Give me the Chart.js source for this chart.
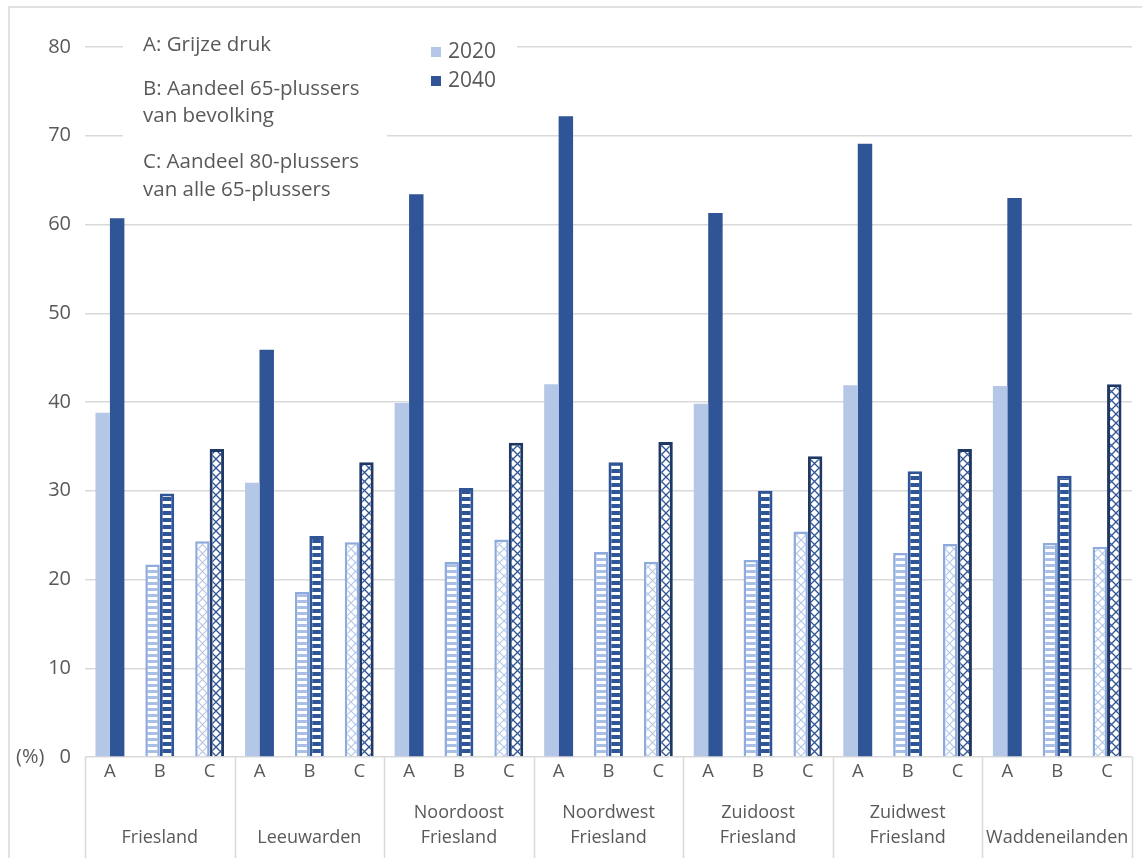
<!DOCTYPE html>
<html lang="nl">
<head>
<meta charset="utf-8">
<title>Grijze druk en vergrijzing per regio, 2020 en 2040</title>
<script src="https://cdn.jsdelivr.net/npm/chart.js@4.4.1/dist/chart.umd.min.js"></script>
<style>
  html, body { margin: 0; padding: 0; background: #ffffff; }
  #wrap { position: relative; width: 1142px; height: 858px; overflow: hidden; }
  canvas { display: block; }
</style>
</head>
<body>
<div id="wrap"><canvas id="chart" width="1142" height="858"></canvas></div>
<script>
// Regions (two-line labels; single-line names sit on the lower line)
const regions = [
  ['', 'Friesland'],
  ['', 'Leeuwarden'],
  ['Noordoost', 'Friesland'],
  ['Noordwest', 'Friesland'],
  ['Zuidoost', 'Friesland'],
  ['Zuidwest', 'Friesland'],
  ['', 'Waddeneilanden']
];
const measures = ['A', 'B', 'C'];
const measureKey = [
  'A: Grijze druk',
  ['B: Aandeel 65-plussers', 'van bevolking'],
  ['C: Aandeel 80-plussers', 'van alle 65-plussers']
];
const years = ['2020', '2040'];

// A: grijze druk (%)
const grijzeDruk2020 = [38.8, 30.9, 39.9, 42.0, 39.8, 41.9, 41.8];
const grijzeDruk2040 = [60.7, 45.9, 63.4, 72.2, 61.3, 69.1, 63.0];
// B: aandeel 65-plussers van bevolking (%)
const aandeel65_2020 = [21.7, 18.6, 22.0, 23.1, 22.2, 23.0, 24.1];
const aandeel65_2040 = [29.7, 24.9, 30.3, 33.2, 30.0, 32.2, 31.7];
// C: aandeel 80-plussers van alle 65-plussers (%)
const aandeel80_2020 = [24.3, 24.2, 24.5, 22.0, 25.4, 24.0, 23.7];
const aandeel80_2040 = [34.7, 33.2, 35.4, 35.5, 33.9, 34.7, 42.0];

const yTicks = [0, 10, 20, 30, 40, 50, 60, 70, 80];

// One category per region x measure: A, B, C, A, B, C, ...
const xLabels = [];
const data2020 = [];
const data2040 = [];
regions.forEach((r, i) => {
  xLabels.push(...measures);
  data2020.push(grijzeDruk2020[i], aandeel65_2020[i], aandeel80_2020[i]);
  data2040.push(grijzeDruk2040[i], aandeel65_2040[i], aandeel80_2040[i]);
});

const FONT = "'Open Sans', 'Liberation Sans', sans-serif";
const TEXT = '#595959';
const GRID = '#d9d9d9';
const LIGHT = '#b4c7e7';
const DARK = '#2f5597';

// Fill patterns: horizontal stripes (B) and diagonal lattice (C)
function stripes(color, on, off) {
  const c = document.createElement('canvas');
  c.width = 8; c.height = on + off;
  const g = c.getContext('2d');
  g.fillStyle = '#ffffff'; g.fillRect(0, 0, c.width, c.height);
  g.fillStyle = color; g.fillRect(0, 0, c.width, on);
  return g.createPattern(c, 'repeat');
}
function lattice(color, size, lw) {
  const c = document.createElement('canvas');
  c.width = size; c.height = size;
  const g = c.getContext('2d');
  g.fillStyle = '#ffffff'; g.fillRect(0, 0, size, size);
  g.strokeStyle = color; g.lineWidth = lw;
  g.beginPath();
  g.moveTo(0, 0); g.lineTo(size, size);
  g.moveTo(size, 0); g.lineTo(0, size);
  g.stroke();
  return g.createPattern(c, 'repeat');
}

const style = {
  '2020': {
    fill: [LIGHT, stripes('#a9bfe6', 3, 3), lattice('#b4c7e7', 9, 1.2)],
    border: [LIGHT, '#8faadc', '#8faadc'],
    width: [0, 2.5, 2.5]
  },
  '2040': {
    fill: [DARK, stripes(DARK, 4, 3), lattice(DARK, 9, 1.3)],
    border: [DARK, DARK, '#1f3864'],
    width: [0, 3, 3]
  }
};

function pick(year, key) {
  return ctx => {
    const i = (ctx.dataIndex || 0) % 3;
    return style[year][key][i];
  };
}

const decorations = {
  id: 'decorations',
  beforeDraw(chart) {
    const g = chart.ctx;
    g.save();
    g.fillStyle = '#ffffff';
    g.fillRect(0, 0, chart.width, chart.height);
    // outer frame of the chart object
    g.strokeStyle = GRID;
    g.lineWidth = 1.5;
    g.strokeRect(9, 7, chart.width + 20, chart.height + 20);
    g.restore();
  },
  beforeDatasetsDraw(chart) {
    const g = chart.ctx;
    const ds = chart.data.datasets;
    g.save();
    // text boxes cover the gridlines behind them
    g.fillStyle = '#ffffff';
    g.fillRect(123, 24, 264, 182);
    g.fillRect(387, 24, 130, 72);

    g.fillStyle = TEXT;
    g.font = '20.5px ' + FONT;
    g.textAlign = 'left';
    g.textBaseline = 'middle';
    const keyRows = [[45], [89, 116], [162, 190]];
    measureKey.forEach((txt, i) => {
      const lines = Array.isArray(txt) ? txt : [txt];
      lines.forEach((l, j) => g.fillText(l, 143, keyRows[i][j]));
    });

    // year legend
    g.font = '21px ' + FONT;
    const legendRows = [52, 81];
    ds.forEach((d, i) => {
      g.fillStyle = style[d.label].fill[0];
      g.fillRect(431, legendRows[i] - 5, 10, 10);
      g.fillStyle = TEXT;
      g.fillText(d.label, 448, legendRows[i]);
    });
    g.restore();
  },
  afterDraw(chart) {
    const g = chart.ctx;
    const x2 = chart.scales.x2;
    const y = chart.scales.y;
    const area = chart.chartArea;
    g.save();
    // group separators below the axis
    g.strokeStyle = GRID;
    g.lineWidth = 1.5;
    const n = regions.length;
    const step = (x2.right - x2.left) / n;
    for (let i = 0; i <= n; i++) {
      const px = Math.round(x2.left + i * step) + 0.5;
      g.beginPath();
      g.moveTo(px, area.bottom);
      g.lineTo(px, chart.height);
      g.stroke();
    }
    // unit label next to the zero tick
    g.fillStyle = TEXT;
    g.font = '20px ' + FONT;
    g.textAlign = 'left';
    g.textBaseline = 'middle';
    g.fillText('(%)', 16, y.getPixelForValue(0));
    g.restore();
  }
};

new Chart(document.getElementById('chart'), {
  type: 'bar',
  data: {
    labels: xLabels,
    datasets: years.map((yr, k) => ({
      label: yr,
      data: k === 0 ? data2020 : data2040,
      backgroundColor: pick(yr, 'fill'),
      borderColor: pick(yr, 'border'),
      borderWidth: pick(yr, 'width'),
      borderSkipped: 'start',
      categoryPercentage: 0.58,
      barPercentage: 1.0
    }))
  },
  options: {
    responsive: false,
    animation: false,
    devicePixelRatio: 1,
    layout: { padding: { top: 47, right: 9, bottom: 0, left: 0 } },
    plugins: { legend: { display: false }, tooltip: { enabled: false } },
    scales: {
      x: {
        type: 'category',
        position: 'bottom',
        grid: { display: false, drawTicks: false },
        border: { display: false },
        ticks: { color: TEXT, font: { family: FONT, size: 18.5 }, padding: 4, autoSkip: false, maxRotation: 0 },
        afterFit(s) { s.height = 30; }
      },
      x2: {
        type: 'category',
        labels: regions,
        position: 'bottom',
        offset: true,
        grid: { display: false, drawTicks: false },
        border: { display: false },
        ticks: { color: TEXT, font: { family: FONT, size: 18, lineHeight: 1.4 }, padding: 13, autoSkip: false, maxRotation: 0 },
        afterFit(s) { s.height = 71; }
      },
      y: {
        min: 0,
        max: 80,
        afterBuildTicks(s) { s.ticks = yTicks.map(v => ({ value: v })); },
        grid: { color: GRID, lineWidth: 1.5, drawTicks: false },
        border: { display: false },
        ticks: { color: TEXT, font: { family: FONT, size: 20 }, padding: 14 },
        afterFit(s) { s.width = 85; }
      }
    }
  },
  plugins: [decorations]
});
</script>
</body>
</html>
